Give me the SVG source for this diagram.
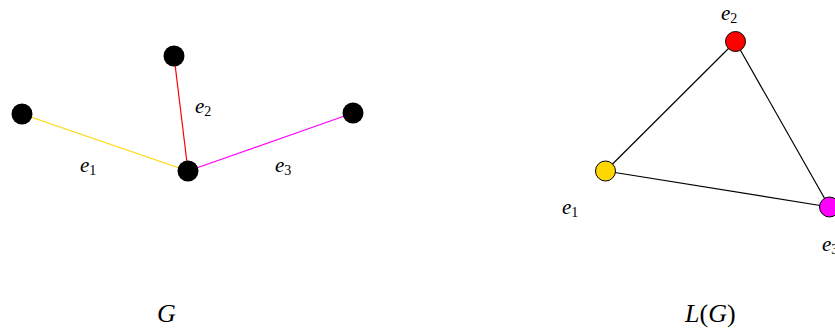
<svg xmlns="http://www.w3.org/2000/svg" width="835" height="328" viewBox="0 0 835 328">
<style>
.lbl{font-family:"Liberation Serif","DejaVu Serif",serif;font-size:21px;font-style:italic;fill:#000}
.sub{font-style:normal;font-size:14px}
.cap{font-family:"Liberation Serif","DejaVu Serif",serif;font-size:26px;font-style:italic;fill:#000}
.up{font-style:normal}
.gv{fill:#000}
.lv{stroke:#000;stroke-width:1}
.edge{fill:none;stroke-width:1.2}
</style>
<rect width="835" height="328" fill="#fff"/>
<g id="connectors">
<line class="edge" x1="22" y1="114" x2="188" y2="171" stroke="#FFD700"/>
<line class="edge" x1="174" y1="56" x2="188" y2="171" stroke="#FF0000"/>
<line class="edge" x1="188" y1="171" x2="353" y2="113" stroke="#FF00FF"/>
<line class="edge" x1="605.5" y1="171" x2="735.5" y2="41.5" stroke="#000" stroke-width="1"/>
<line class="edge" x1="735.5" y1="41.5" x2="829.5" y2="207" stroke="#000" stroke-width="1"/>
<line class="edge" x1="605.5" y1="171" x2="829.5" y2="207" stroke="#000" stroke-width="1"/>
</g>
<g id="g-v1"><circle class="gv" cx="22" cy="114" r="10.5"/></g>
<g id="g-v2"><circle class="gv" cx="174" cy="56" r="10.5"/></g>
<g id="g-v3"><circle class="gv" cx="188" cy="171" r="10.5"/></g>
<g id="g-v4"><circle class="gv" cx="353" cy="113" r="10.5"/></g>
<g id="g-e1"><text class="lbl" x="80" y="172">e<tspan class="sub" dy="3">1</tspan></text></g>
<g id="g-e2"><text class="lbl" x="195" y="113">e<tspan class="sub" dy="3">2</tspan></text></g>
<g id="g-e3"><text class="lbl" x="275" y="172">e<tspan class="sub" dy="3">3</tspan></text></g>
<g id="l-e2"><circle class="lv" cx="735.5" cy="41.5" r="10" fill="#FF0000"/><text class="lbl" x="721" y="20">e<tspan class="sub" dy="3">2</tspan></text></g>
<g id="l-e1"><circle class="lv" cx="605.5" cy="171" r="10" fill="#FFD700"/><text class="lbl" x="562" y="214">e<tspan class="sub" dy="3">1</tspan></text></g>
<g id="l-e3"><circle class="lv" cx="829.5" cy="207" r="10" fill="#FF00FF"/><text class="lbl" x="822" y="251">e<tspan class="sub" dy="3">3</tspan></text></g>
<g id="cap-G"><text class="cap" x="157" y="322">G</text></g>
<g id="cap-LG"><text class="cap" x="685" y="322">L<tspan class="up">(</tspan>G<tspan class="up">)</tspan></text></g>
</svg>
